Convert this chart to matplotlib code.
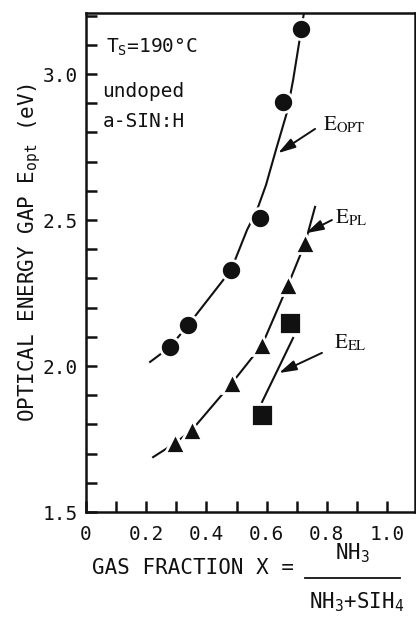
import matplotlib
matplotlib.use('Agg')
import matplotlib.pyplot as plt
from matplotlib.lines import Line2D
from matplotlib.patches import ArrowStyle

plt.rcParams['font.family'] = ['DejaVu Sans Mono']
plt.rcParams['mathtext.fontset'] = 'custom'
plt.rcParams['mathtext.rm'] = 'DejaVu Sans Mono'
plt.rcParams['mathtext.it'] = 'DejaVu Sans Mono'

# measured points (gas fraction X, energy in eV)
x_opt = [0.279, 0.339, 0.482, 0.578, 0.654, 0.714]
e_opt = [2.065, 2.140, 2.329, 2.507, 2.904, 3.154]
x_pl = [0.296, 0.352, 0.485, 0.585, 0.671, 0.728]
e_pl = [1.736, 1.781, 1.942, 2.072, 2.277, 2.421]
x_el = [0.585, 0.678]
e_el = [1.832, 2.147]

# hand drawn guide lines
fit_opt_x = [0.213, 0.279, 0.339, 0.482, 0.535, 0.568, 0.598, 0.631, 0.668, 0.688, 0.724]
fit_opt_y = [2.014, 2.065, 2.140, 2.329, 2.466, 2.534, 2.620, 2.740, 2.870, 2.979, 3.209]
fit_pl_x = [0.223, 0.296, 0.352, 0.485, 0.585, 0.671, 0.728, 0.761]
fit_pl_y = [1.688, 1.736, 1.781, 1.942, 2.072, 2.277, 2.421, 2.545]
fit_el_x = [0.585, 0.688]
fit_el_y = [1.877, 2.096]

x_ticks = [0, 0.2, 0.4, 0.6, 0.8, 1.0]
x_ticklabels = ['0', '0.2', '0.4', '0.6', '0.8', '1.0']
y_ticks = [1.5, 2.0, 2.5, 3.0]
y_ticklabels = ['1.5', '2.0', '2.5', '3.0']

ink = '#111111'

fig = plt.figure(figsize=(4.16, 6.19), dpi=100)
ax = fig.add_axes([86 / 416, 1 - 512 / 619, 329 / 416, 499 / 619])

# guide lines
ax.plot(fit_opt_x, fit_opt_y, color=ink, lw=1.5, zorder=2)
ax.plot(fit_pl_x, fit_pl_y, color=ink, lw=1.5, zorder=2)
ax.plot(fit_el_x, fit_el_y, color=ink, lw=1.5, zorder=2)

# markers with a white rim so the lines stop short of them
ax.plot(x_opt, e_opt, 'o', ms=14.5, mfc=ink, mec='white', mew=2, zorder=4)
ax.plot(x_pl, e_pl, '^', ms=14.5, mfc=ink, mec='white', mew=2, zorder=4)
ax.plot(x_el, e_el, 's', ms=16, mfc=ink, mec='white', mew=2, zorder=4)

# curve labels with arrows
arrow = dict(arrowstyle=ArrowStyle('-|>', head_length=0.75, head_width=0.22),
             mutation_scale=14, color=ink, lw=1.4, shrinkA=0, shrinkB=0)
ax.annotate('', xy=(0.638, 2.729), xytext=(0.761, 2.812), arrowprops=arrow)
ax.annotate('', xy=(0.731, 2.455), xytext=(0.817, 2.500), arrowprops=arrow)
ax.annotate('', xy=(0.641, 1.976), xytext=(0.784, 2.045), arrowprops=arrow)
ax.text(0.787, 2.808, r'$\mathrm{E}_{\mathrm{OPT}}$', fontsize=15, color=ink,
        math_fontfamily='stix', va='baseline')
ax.text(0.827, 2.490, r'$\mathrm{E}_{\mathrm{PL}}$', fontsize=15, color=ink,
        math_fontfamily='stix', va='baseline')
ax.text(0.824, 2.062, r'$\mathrm{E}_{\mathrm{EL}}$', fontsize=15, color=ink,
        math_fontfamily='stix', va='baseline')

# sample notes
ax.text(0.068, 3.072, r'T$_\mathrm{S}$=190°C', fontsize=14, color=ink, va='baseline')
ax.text(0.055, 2.921, 'undoped', fontsize=14, color=ink, va='baseline')
ax.text(0.055, 2.818, 'a-SIN:H', fontsize=14, color=ink, va='baseline')

# axes
ax.set_xlim(0, 1.093)
ax.set_ylim(1.5, 3.209)
ax.set_xticks(x_ticks)
ax.set_xticklabels(x_ticklabels)
ax.set_xticks([0.1, 0.3, 0.5, 0.7, 0.9], minor=True)
ax.set_yticks(y_ticks)
ax.set_yticklabels(y_ticklabels)
ax.set_yticks([1.6, 1.7, 1.8, 1.9, 2.1, 2.2, 2.3, 2.4, 2.6, 2.7, 2.8, 2.9, 3.1, 3.2], minor=True)
ax.tick_params(which='both', direction='in', length=8, width=1.8, color=ink,
               labelsize=14, labelcolor=ink, top=False, right=False)
ax.tick_params(axis='x', which='major', pad=9)
ax.tick_params(axis='y', which='major', pad=6)
for s in ax.spines.values():
    s.set_linewidth(1.8)
    s.set_color(ink)

fig.text(30 / 416, 1 - 252 / 619, r'OPTICAL ENERGY GAP E$_\mathrm{opt}$ (eV)',
         rotation=90, ha='center', va='center', fontsize=15, color=ink)

fig.text(92 / 416, 1 - 568 / 619, 'GAS FRACTION X =', ha='left', va='center',
         fontsize=15, color=ink)
fig.text(352 / 416, 1 - 553 / 619, r'NH$_3$', ha='center', va='center',
         fontsize=15, color=ink)
fig.add_artist(Line2D([305 / 416, 400 / 416], [1 - 578 / 619, 1 - 578 / 619],
                      color=ink, lw=1.3))
fig.text(357 / 416, 1 - 602 / 619, r'NH$_3$+SIH$_4$', ha='center', va='center',
         fontsize=15, color=ink)

fig.savefig('out.png', dpi=100)
